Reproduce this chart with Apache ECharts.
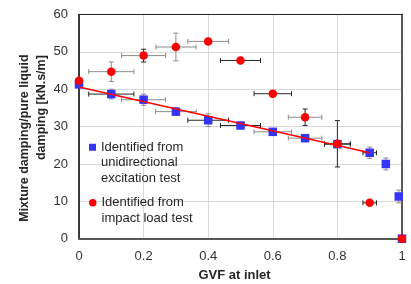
<!DOCTYPE html>
<html>
<head>
<meta charset="utf-8">
<script src="https://cdn.jsdelivr.net/npm/echarts@6/dist/echarts.min.js"></script>
<style>
  html, body { margin: 0; padding: 0; background: #fff; }
  #chart { width: 411px; height: 284px; }
</style>
</head>
<body>
<div id="chart"></div>
<script>
// unidirectional excitation test
const uniGvf = [0, 0.1, 0.2, 0.3, 0.4, 0.5, 0.6, 0.7, 0.8, 0.9, 0.95, 0.99, 1.0]
const uniDamping = [41.3, 38.7, 37.2, 34.0, 31.7, 30.3, 28.6, 26.9, 25.3, 23.0, 20.0, 11.3, 0]
const uniGvfErr = [0, 0.07, 0.068, 0.063, 0.063, 0.062, 0.058, 0.052, 0.04, 0.021, 0, 0, 0]
const uniDampingErr = [0, 1.3, 1.5, 1.0, 1.7, 0, 0.5, 0.5, 0.5, 1.5, 1.6, 1.7, 0]

// impact load test
const impactGvf = [0, 0.1, 0.2, 0.3, 0.4, 0.5, 0.6, 0.7, 0.8, 0.9, 1.0]
const impactDamping = [42.3, 44.7, 49.0, 51.3, 52.8, 47.7, 38.8, 32.5, 25.4, 9.6, 0]
const impactGvfErr = [0, 0.07, 0.068, 0.062, 0.063, 0.062, 0.058, 0.052, 0.04, 0.021, 0]
const impactDampingErr = [0, 2.6, 1.7, 3.7, 0.8, 0, 0.8, 2.2, 6.2, 0, 0]

// linear fit of the unidirectional data
const trendGvf = [0, 0.9]
const trendDamping = [40.6, 23.0]

const uniName = 'Identified from\nunidirectional\nexcitation test'
const impactName = 'Identified from\nimpact load test'

// error bar tones (g = grey, k = black), horizontal / vertical
const uniHTone = ['g', 'k', 'g', 'g', 'k', 'k', 'g', 'g', 'k', 'k', 'g', 'g', 'g']
const uniVTone = ['g', 'g', 'g', 'g', 'g', 'g', 'g', 'g', 'g', 'g', 'g', 'g', 'g']
const impactHTone = ['g', 'g', 'g', 'g', 'g', 'k', 'k', 'g', 'k', 'k', 'g']
const impactVTone = ['g', 'g', 'k', 'g', 'k', 'g', 'k', 'k', 'k', 'g', 'g']

const FONT = "'Liberation Sans', Arial, sans-serif"
const toneColor = { g: '#8c8c8c', k: '#262626' }

const zip = (a, b, c, d) => a.map((v, i) => (c ? [v, b[i], c[i], d[i]] : [v, b[i]]))

const errorBars = (hTone, vTone) => (params, api) => {
  const x = api.value(0)
  const y = api.value(1)
  const dx = api.value(2)
  const dy = api.value(3)
  const cap = 2.5
  const children = []
  const seg = (x1, y1, x2, y2, color) => children.push({
    type: 'line',
    shape: { x1, y1, x2, y2 },
    style: { stroke: color, lineWidth: 1 }
  })
  if (dx > 0) {
    const c = toneColor[hTone[params.dataIndex]]
    const l = api.coord([x - dx, y])
    const r = api.coord([x + dx, y])
    seg(l[0], l[1], r[0], r[1], c)
    seg(l[0], l[1] - cap, l[0], l[1] + cap, c)
    seg(r[0], r[1] - cap, r[0], r[1] + cap, c)
  }
  if (dy > 0) {
    const c = toneColor[vTone[params.dataIndex]]
    const t = api.coord([x, y + dy])
    const b = api.coord([x, y - dy])
    seg(t[0], t[1], b[0], b[1], c)
    seg(t[0] - cap, t[1], t[0] + cap, t[1], c)
    seg(b[0] - cap, b[1], b[0] + cap, b[1], c)
  }
  return { type: 'group', children }
}

// legend text is centred on its icon; pad with blank lines so the icon sits on the first line
const topAligned = name => {
  const n = name.split('\n').length
  return '\n'.repeat(n - 1) + name
}

const chart = echarts.init(document.getElementById('chart'))

const legendText = {
  fontFamily: FONT,
  fontSize: 13,
  lineHeight: 15.5,
  color: '#262626'
}

const option = {
  animation: false,
  textStyle: { fontFamily: FONT },
  grid: { left: 79, right: 9, top: 14.5, bottom: 45.3, outerBoundsMode: 'none' },
  legend: [
    {
      data: [{ name: uniName, icon: 'rect' }],
      formatter: topAligned,
      left: 89, top: 108.5, padding: 0,
      itemWidth: 7, itemHeight: 7,
      selectedMode: false,
      textStyle: legendText
    },
    {
      data: [{ name: impactName, icon: 'circle' }],
      formatter: topAligned,
      left: 89, top: 179.5, padding: 0,
      itemWidth: 7.5, itemHeight: 7.5,
      selectedMode: false,
      textStyle: legendText
    }
  ],
  xAxis: [
    {
      type: 'value',
      min: 0,
      max: 1,
      interval: 0.2,
      name: '{n|GVF at inlet}',
      nameLocation: 'middle',
      nameGap: 30,
      nameMoveOverlap: false,
      nameTextStyle: {
        rich: {
          n: { fontFamily: FONT, fontSize: 13, fontWeight: 'bold', color: '#262626', padding: [0, 12, 0, 0] }
        }
      },
      axisLine: { show: true, onZero: false, lineStyle: { color: '#595959', width: 2 } },
      axisTick: { show: false },
      axisLabel: { fontFamily: FONT, fontSize: 13, color: '#333', margin: 11 },
      splitLine: { show: true, lineStyle: { color: '#d9d9d9', width: 1 } }
    },
    {
      type: 'value',
      position: 'top',
      min: 0,
      max: 1,
      axisLine: { show: true, onZero: false, lineStyle: { color: '#262626', width: 1 } },
      axisTick: { show: false },
      axisLabel: { show: false },
      splitLine: { show: false }
    }
  ],
  yAxis: [
    {
      type: 'value',
      min: 0,
      max: 60,
      interval: 10,
      name: '{a|Mixture damping/pure liquid}\n{b|damping [kN.s/m]}',
      nameLocation: 'middle',
      nameRotate: 90,
      nameGap: 29,
      nameMoveOverlap: false,
      nameTextStyle: {
        lineHeight: 16.7,
        rich: {
          a: { fontFamily: FONT, fontSize: 12.5, fontWeight: 'bold', color: '#262626', lineHeight: 16.7, padding: [0, 23, 0, 0] },
          b: { fontFamily: FONT, fontSize: 12.5, fontWeight: 'bold', color: '#262626', lineHeight: 16.7, padding: [0, 0, 0, 38] }
        }
      },
      axisLine: { show: true, onZero: false, lineStyle: { color: '#000', width: 1.5 } },
      axisTick: { show: false },
      axisLabel: { fontFamily: FONT, fontSize: 13, color: '#333', margin: 11 },
      splitLine: { show: true, lineStyle: { color: '#d9d9d9', width: 1 } }
    },
    {
      type: 'value',
      position: 'right',
      min: 0,
      max: 60,
      axisLine: { show: true, onZero: false, lineStyle: { color: '#595959', width: 2 } },
      axisTick: { show: false },
      axisLabel: { show: false },
      splitLine: { show: false }
    }
  ],
  series: [
    {
      type: 'custom',
      name: 'uni-err',
      renderItem: errorBars(uniHTone, uniVTone),
      data: zip(uniGvf, uniDamping, uniGvfErr, uniDampingErr),
      encode: { x: 0, y: 1 },
      z: 1,
      silent: true
    },
    {
      type: 'custom',
      name: 'impact-err',
      renderItem: errorBars(impactHTone, impactVTone),
      data: zip(impactGvf, impactDamping, impactGvfErr, impactDampingErr),
      encode: { x: 0, y: 1 },
      z: 1,
      silent: true
    },
    {
      type: 'scatter',
      name: uniName,
      symbol: 'rect',
      symbolSize: 8.5,
      itemStyle: { color: '#3535f5', opacity: 1 },
      data: zip(uniGvf, uniDamping),
      z: 2
    },
    {
      type: 'line',
      name: 'fit',
      data: zip(trendGvf, trendDamping),
      showSymbol: false,
      symbol: 'none',
      lineStyle: { color: '#ff0000', width: 1.3 },
      z: 3
    },
    {
      type: 'scatter',
      name: impactName,
      symbol: 'circle',
      symbolSize: 8.5,
      itemStyle: { color: '#ff0000', opacity: 1 },
      data: zip(impactGvf, impactDamping),
      z: 4
    }
  ]
}

chart.setOption(option)
</script>
</body>
</html>
